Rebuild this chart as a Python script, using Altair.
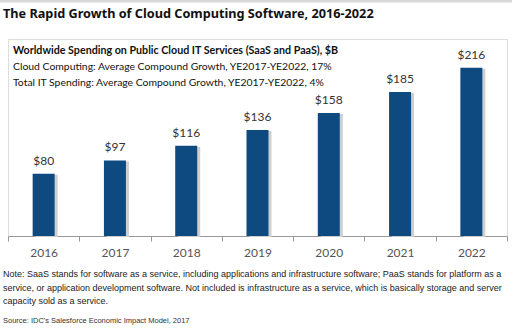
import altair as alt
import pandas as pd

years = ["2016", "2017", "2018", "2019", "2020", "2021", "2022"]
spending = [80, 97, 116, 136, 158, 185, 216]
labels = ["$80", "$97", "$116", "$136", "$158", "$185", "$216"]

title_text = "The Rapid Growth of Cloud Computing Software, 2016-2022"
header_lines = [
    "Worldwide  Spending on Public Cloud IT Services (SaaS and PaaS), $B",
    "Cloud Computing:  Average Compound Growth, YE2017-YE2022, 17%",
    "Total IT Spending:  Average Compound Growth, YE2017-YE2022,  4%",
]
note_lines = [
    "Note: SaaS stands for software as a service, including applications and infrastructure software; PaaS stands for platform as a",
    "service, or application development software. Not included is infrastructure as a service, which is basically storage and server",
    "capacity sold as a service.",
]
source_text = "Source: IDC's Salesforce Economic Impact Model, 2017"

df = pd.DataFrame({"year": years, "value": spending, "label": labels})

W, H = 499, 197
x = alt.X("year:N", sort=years, title=None,
          scale=alt.Scale(paddingInner=0, paddingOuter=0),
          axis=alt.Axis(labelAngle=0, domainColor="#999", tickColor="#999",
                        tickSize=5, tickBand="extent", labelColor="#555",
                        labelFont="Lato", labelFontSize=12, labelPadding=6))
y = alt.Y("value:Q", scale=alt.Scale(domain=[0, 253], nice=False), axis=None)

base = alt.Chart(df)
shadow = base.mark_bar(size=22, color="#cfcfcf", xOffset=3, yOffset=1).encode(x=x, y=y)
bars = base.mark_bar(size=22, color="#0E4A80").encode(x=x, y=y)
text = base.mark_text(baseline="bottom", dy=-6, font="Lato", fontSize=12, color="#333").encode(
    x=x, y=y, text="label:N")

def txt(s, px, py, size, weight="normal", font="Lato", color="#111"):
    return alt.Chart(pd.DataFrame({"t": [s]})).mark_text(
        align="left", baseline="middle", font=font, fontSize=size,
        fontWeight=weight, color=color
    ).encode(x=alt.value(px), y=alt.value(py), text="t:N")

layers = [shadow, bars, text]
layers.append(alt.Chart(pd.DataFrame({"a": [0]})).mark_rule(color="#d8d8d8", strokeWidth=3).encode(
    x=alt.value(-8), x2=alt.value(504), y=alt.value(-38)))
layers.append(txt(title_text, -5, -25, 12.7, "bold", font="Noto Sans", color="#111"))
layers.append(txt(header_lines[0], 5, 12, 10.7, "bold"))
layers.append(txt(header_lines[1], 5, 28, 10.4))
layers.append(txt(header_lines[2], 5, 44, 10.4))
for i, s in enumerate(note_lines):
    layers.append(txt(s, -5, 235 + 13.5 * i, 9, font="Liberation Sans", color="#222"))
layers.append(txt(source_text, -5, 282, 7.5, font="Liberation Sans", color="#333"))

chart = alt.layer(*layers).properties(
    width=W, height=H,
    autosize=alt.AutoSizeParams(type="none"),
    padding={"left": 8, "top": 39, "right": 5, "bottom": 95},
).configure_view(stroke="#b5b5b5", strokeWidth=1).configure(background="white")

chart.save("out.html", embed_options={"renderer": "svg", "actions": False})
